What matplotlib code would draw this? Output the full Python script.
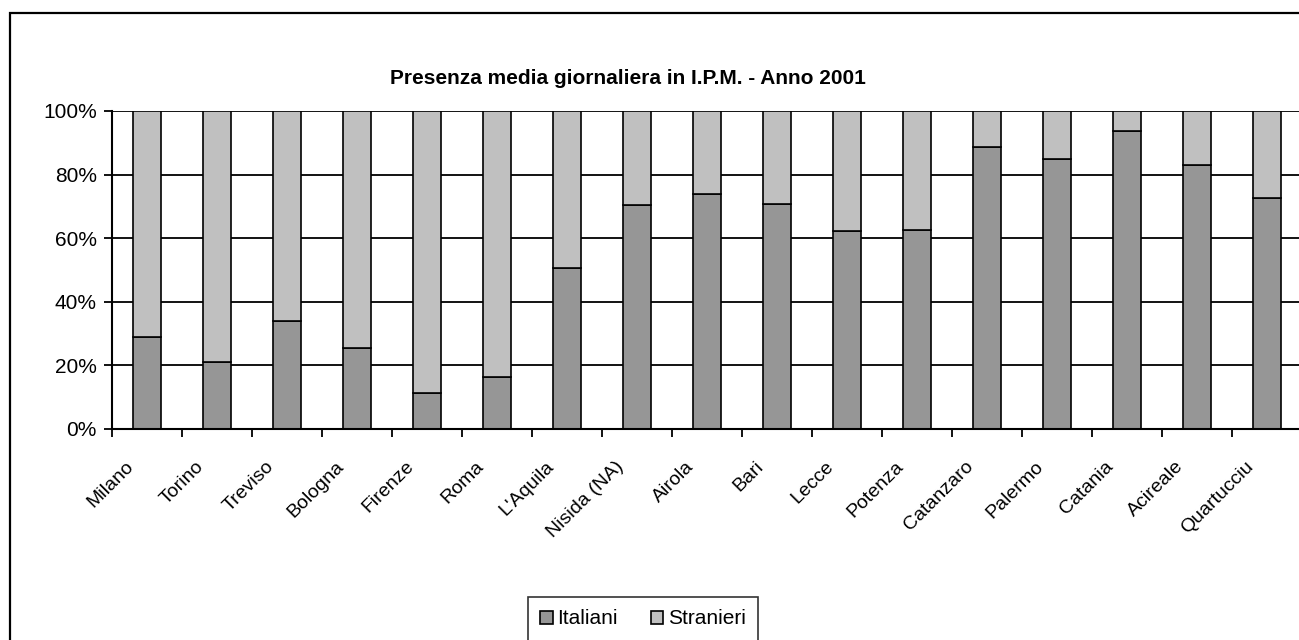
import matplotlib.pyplot as plt
from matplotlib.patches import Rectangle
from matplotlib.transforms import ScaledTranslation

plt.rcParams["font.family"] = ["Liberation Sans", "DejaVu Sans"]

cities = ["Milano", "Torino", "Treviso", "Bologna", "Firenze", "Roma", "L'Aquila",
          "Nisida (NA)", "Airola", "Bari", "Lecce", "Potenza", "Catanzaro",
          "Palermo", "Catania", "Acireale", "Quartucciu"]
italiani = [29.0, 21.2, 34.0, 25.6, 11.2, 16.4, 50.7, 70.3, 73.8, 70.9, 62.2,
            62.6, 88.6, 84.8, 93.6, 83.1, 72.5]
stranieri = [100 - v for v in italiani]
y_ticks = [0, 20, 40, 60, 80, 100]

W, H = 1299, 640
fig = plt.figure(figsize=(W / 100, H / 100), dpi=100)

# cornice esterna del grafico
fig.patches.append(Rectangle((10 / W, -0.1), 1.2, 1 - 13 / H + 0.1, transform=fig.transFigure,
                             fill=False, edgecolor="black", linewidth=1.6))

ax = fig.add_axes([112 / W, (H - 429) / H, (1302 - 112) / W, 318 / H])
x = list(range(len(cities)))
ax.bar(x, italiani, width=0.39, color="#969696", edgecolor="black", linewidth=1.2,
       label="Italiani", zorder=3)
ax.bar(x, stranieri, width=0.39, bottom=italiani, color="#c0c0c0", edgecolor="black",
       linewidth=1.2, label="Stranieri", zorder=3)

ax.set_xlim(-0.5, len(cities) - 0.5)
ax.set_ylim(0, 100)
ax.set_yticks(y_ticks)
ax.set_yticklabels([f"{v}%" for v in y_ticks], fontsize=15)
for v in y_ticks[1:]:
    ax.axhline(v, color="black", linewidth=1.3, zorder=1)

# etichette categorie ruotate (spostate come in Excel)
ax.set_xticks([i - 0.5 for i in range(len(cities) + 1)])
ax.set_xticklabels([])
ax.tick_params(axis="x", length=6, width=1.3, direction="out")
ax.tick_params(axis="y", length=6, width=1.3, direction="out", pad=5)
lab_tr = ax.get_xaxis_transform() + ScaledTranslation(-22 / 100, -29 / 100, fig.dpi_scale_trans)
for i, name in enumerate(cities):
    ax.text(i, 0, name, transform=lab_tr, rotation=45, ha="right", va="top",
            rotation_mode="anchor", fontsize=14)

for side in ["top", "right"]:
    ax.spines[side].set_visible(False)
for side in ["left", "bottom"]:
    ax.spines[side].set_linewidth(1.5)
    ax.spines[side].set_zorder(4)

fig.text(628 / W, 1 - 78 / H, "Presenza media giornaliera in I.P.M. - Anno 2001",
         ha="center", va="center", fontsize=15, fontweight="bold")

leg = fig.legend(loc="upper center", bbox_to_anchor=(643 / W, 1 - 597 / H), ncol=2,
                 fontsize=15, frameon=True, fancybox=False, edgecolor="black",
                 handlelength=0.6, handleheight=0.6, handletextpad=0.2, columnspacing=1.6,
                 borderpad=0.6, borderaxespad=0)
leg.get_frame().set_linewidth(1.2)

fig.savefig("out.png", dpi=100)
